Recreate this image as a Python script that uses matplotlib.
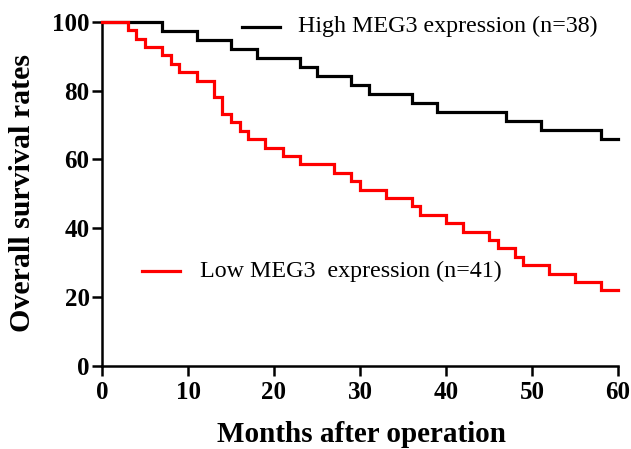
import matplotlib
matplotlib.use("Agg")
import matplotlib.pyplot as plt

# Kaplan-Meier step values (months, % surviving)
high_months = [0, 7, 11, 15, 18, 23, 25, 29, 31, 36, 39, 47, 51, 58, 60]
high_surv = [100, 97.4, 94.7, 92.1, 89.5, 86.8, 84.2, 81.6, 78.9, 76.3,
             73.7, 71.1, 68.4, 65.8, 65.8]

low_months = [0, 3, 4, 5, 7, 8, 9, 11, 13, 14, 15, 16, 17, 19, 21, 23, 27,
              29, 30, 33, 36, 37, 40, 42, 45, 46, 48, 49, 52, 55, 58, 60]
low_surv = [100, 97.6, 95.1, 92.7, 90.2, 87.8, 85.4, 82.9, 78.0, 73.2,
            70.7, 68.3, 65.9, 63.4, 61.0, 58.5, 56.1, 53.7, 51.2, 48.8,
            46.3, 43.9, 41.5, 39.0, 36.6, 34.1, 31.7, 29.3, 26.8, 24.4,
            22.0, 22.0]

high_label = "High MEG3 expression (n=38)"
low_label = "Low MEG3  expression (n=41)"
x_ticks = [0, 10, 20, 30, 40, 50, 60]
y_ticks = [0, 20, 40, 60, 80, 100]

plt.rcParams['font.family'] = ['Liberation Serif', 'DejaVu Serif']

fig = plt.figure(figsize=(6.31, 4.49), dpi=100)
ax = fig.add_axes([102 / 631, 83.3 / 449, 516 / 631, 344 / 449])

ax.step(low_months, low_surv, where='post', color='#ff0000', lw=2.3,
        solid_joinstyle='miter', clip_on=False, zorder=3)
ax.step(high_months, high_surv, where='post', color='black', lw=2.3,
        solid_joinstyle='miter', clip_on=False, zorder=2)

ax.set_xlim(0, 60)
ax.set_ylim(0, 100)
ax.set_xticks(x_ticks)
ax.set_yticks(y_ticks)

for side in ['top', 'right']:
    ax.spines[side].set_visible(False)
for side in ['left', 'bottom']:
    ax.spines[side].set_linewidth(1.8)

ax.tick_params(direction='out', length=7, width=1.8, labelsize=18)
ax.tick_params(axis='x', pad=4)
ax.tick_params(axis='y', pad=2)
for lab in ax.get_xticklabels() + ax.get_yticklabels():
    lab.set_fontweight('bold')

ax.set_xlabel("Months after operation", fontsize=21, fontweight='bold',
              va='center')
ax.xaxis.set_label_coords(0.502, -0.201)
ax.set_ylabel("Overall survival rates", fontsize=21.5, fontweight='bold',
              va='center')
ax.yaxis.set_label_coords(-0.155, 0.502)

# hand-placed legend entries
ax.plot([0.271, 0.345], [0.985, 0.985], color='black', lw=2.3,
        transform=ax.transAxes, clip_on=False)
ax.text(0.38, 0.985, high_label, transform=ax.transAxes, fontsize=17.3,
        va='center', ha='left')
ax.plot([0.077, 0.151], [0.275, 0.275], color='#ff0000', lw=2.3,
        transform=ax.transAxes, clip_on=False)
ax.text(0.19, 0.275, low_label, transform=ax.transAxes, fontsize=17.3,
        va='center', ha='left')

fig.savefig("out.png", dpi=100)
